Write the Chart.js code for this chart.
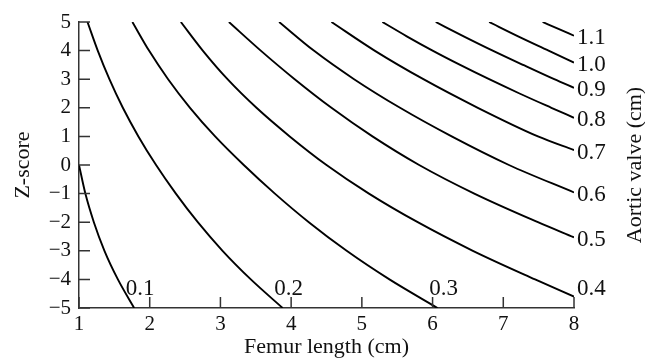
<!DOCTYPE html>
<html>
<head>
<meta charset="utf-8">
<script src="https://cdn.jsdelivr.net/npm/chart.js@4.4.0/dist/chart.umd.min.js"></script>
<style>
  html, body { margin: 0; padding: 0; background: #fff; }
  canvas { display: block; }
</style>
</head>
<body>
<canvas id="zChart" width="645" height="360"></canvas>
<script>
// aortic valve size (cm) of each curve
const valveSizes = ['0.1', '0.2', '0.3', '0.4', '0.5', '0.6', '0.7', '0.8', '0.9', '1.0', '1.1'];

// femur length (cm) / z-score points
const femur01 = [1.0, 1.09, 1.21, 1.36, 1.55, 1.78];
const zscore01 = [0, -1, -2, -3, -4, -5];
const femur02 = [1.12, 1.265, 1.43, 1.62, 1.84, 2.09, 2.37, 2.68, 3.03, 3.43, 3.88];
const zscore02 = [5, 4, 3, 2, 1, 0, -1, -2, -3, -4, -5];
const femur03 = [1.755, 1.99, 2.26, 2.57, 2.925, 3.33, 3.77, 4.25, 4.785, 5.39, 6.07];
const zscore03 = [5, 4, 3, 2, 1, 0, -1, -2, -3, -4, -5];
const femur04 = [2.44, 2.75, 3.1, 3.51, 3.98, 4.5, 5.1, 5.79, 6.57, 7.45, 8.0];
const zscore04 = [5, 4, 3, 2, 1, 0, -1, -2, -3, -4, -4.6];
const femur05 = [3.12, 3.57, 4.05, 4.57, 5.15, 5.81, 6.59, 7.49, 8.0];
const zscore05 = [5, 4, 3, 2, 1, 0, -1, -2, -2.53];
const femur06 = [3.83, 4.32, 4.89, 5.54, 6.27, 7.08, 8.0];
const zscore06 = [5, 4, 3, 2, 1, 0, -0.96];
const femur07 = [4.57, 5.18, 5.87, 6.64, 7.49, 8.0];
const zscore07 = [5, 4, 3, 2, 1, 0.52];
const femur08 = [5.29, 5.635, 6.0, 6.39, 6.8, 7.23, 7.68, 8.0];
const zscore08 = [5, 4.5, 4, 3.5, 3, 2.5, 2, 1.65];
const femur09 = [6.045, 6.44, 6.85, 7.28, 7.72, 8.0];
const zscore09 = [5, 4.5, 4, 3.5, 3, 2.7];
const femur10 = [6.8, 7.21, 7.64, 8.0];
const zscore10 = [5, 4.5, 4, 3.58];
const femur11 = [7.556, 7.78, 8.0];
const zscore11 = [5, 4.76, 4.52];

const femurTicks = [1, 2, 3, 4, 5, 6, 7, 8];
const zTicks = [-5, -4, -3, -2, -1, 0, 1, 2, 3, 4, 5];

const curves = [
  [femur01, zscore01], [femur02, zscore02], [femur03, zscore03], [femur04, zscore04],
  [femur05, zscore05], [femur06, zscore06], [femur07, zscore07], [femur08, zscore08],
  [femur09, zscore09], [femur10, zscore10], [femur11, zscore11]
];

const ink = '#111';
const axisColor = '#333';
const serif = '"Liberation Serif", "Times New Roman", serif';

Chart.defaults.font.family = serif;
Chart.defaults.color = ink;

function signed(v) {
  return v < 0 ? '\u2212' + (-v) : String(v);
}

// inward tick marks, curve labels and the right-hand title
const chartMarks = {
  id: 'chartMarks',
  afterDraw(chart) {
    const { ctx, chartArea: area, scales: { x, y } } = chart;
    ctx.save();
    ctx.strokeStyle = axisColor;
    ctx.lineWidth = 1.5;
    ctx.beginPath();
    femurTicks.forEach(v => {
      const px = x.getPixelForValue(v);
      ctx.moveTo(px, area.bottom);
      ctx.lineTo(px, area.bottom - 11);
    });
    zTicks.forEach(v => {
      const py = y.getPixelForValue(v);
      ctx.moveTo(area.left, py);
      ctx.lineTo(area.left + 11, py);
    });
    ctx.stroke();

    ctx.fillStyle = ink;
    ctx.font = '23px ' + serif;
    ctx.textBaseline = 'middle';
    const lowRow = area.bottom - 19.5;
    chart.data.datasets.forEach(ds => {
      const last = ds.data[ds.data.length - 1];
      const px = x.getPixelForValue(last.x);
      const py = y.getPixelForValue(last.y);
      if (last.y <= y.min) {
        ctx.textAlign = 'center';
        ctx.fillText(ds.label, px + 6, lowRow);
      } else {
        ctx.textAlign = 'left';
        ctx.fillText(ds.label, px + 3, Math.min(py + 2.5, lowRow));
      }
    });

    ctx.translate(641, (area.top + area.bottom) / 2);
    ctx.rotate(-Math.PI / 2);
    ctx.textAlign = 'center';
    ctx.textBaseline = 'alphabetic';
    ctx.font = '22px ' + serif;
    ctx.fillText('Aortic valve (cm)', 0, 0);
    ctx.restore();
  }
};

new Chart(document.getElementById('zChart'), {
  type: 'line',
  data: {
    datasets: curves.map((c, i) => ({
      label: valveSizes[i],
      data: c[0].map((fx, j) => ({ x: fx, y: c[1][j] })),
      borderColor: '#000',
      borderWidth: 1.9,
      pointRadius: 0,
      fill: false,
      cubicInterpolationMode: 'monotone'
    }))
  },
  options: {
    responsive: false,
    animation: false,
    layout: { padding: { top: 22, right: 71, bottom: 0, left: 0 } },
    plugins: { legend: { display: false }, tooltip: { enabled: false } },
    scales: {
      x: {
        type: 'linear',
        min: 1,
        max: 8,
        afterBuildTicks: s => { s.ticks = femurTicks.map(v => ({ value: v })); },
        afterFit: s => { s.height = 52; },
        grid: { display: false, drawTicks: false },
        border: { display: true, color: axisColor, width: 1.5 },
        ticks: { padding: 4, font: { size: 21 }, color: ink, callback: v => signed(v) },
        title: { display: true, text: 'Femur length (cm)', font: { size: 22 }, color: ink, padding: { top: 0, bottom: 0 } }
      },
      y: {
        type: 'linear',
        min: -5,
        max: 5,
        afterBuildTicks: s => { s.ticks = zTicks.map(v => ({ value: v })); },
        afterFit: s => { s.width = 79; },
        grid: { display: false, drawTicks: false },
        border: { display: true, color: axisColor, width: 1.5 },
        ticks: { padding: 8, font: { size: 21 }, color: ink, callback: v => signed(v) },
        title: { display: true, text: 'Z-score', font: { size: 22 }, color: ink, padding: { top: 10, bottom: 0 } }
      }
    }
  },
  plugins: [chartMarks]
});
</script>
</body>
</html>
